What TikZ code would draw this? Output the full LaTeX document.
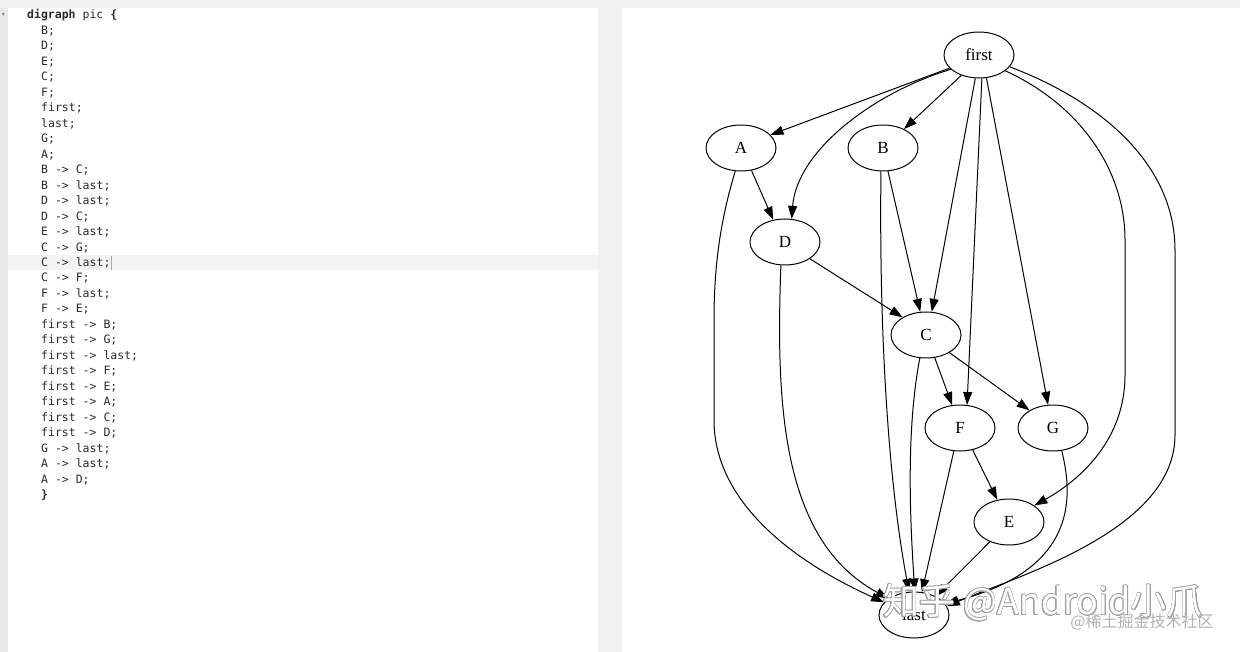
\documentclass[tikz,border=0pt]{standalone}
\usepackage{fontspec}
\setmainfont{Liberation Serif}
\newfontfamily\codefont{DejaVu Sans Mono}
\newfontfamily\symfont{DejaVu Sans}
\newfontfamily\cjkfont{Noto Sans CJK SC}
\usepackage{contour}
\contourlength{0.7pt}
\contournumber{20}
\usetikzlibrary{arrows.meta,shapes.geometric}
\definecolor{panelgray}{HTML}{F0F0F0}
\definecolor{gutter}{HTML}{E9E9E9}
\definecolor{curline}{HTML}{F3F3F3}
\definecolor{codecol}{HTML}{2A2A2A}
\tikzset{
  gnode/.style={ellipse, draw, line width=1pt, minimum width=70pt, minimum height=46pt, inner sep=0pt,
    font=\fontsize{17}{17}\selectfont},
  edge/.style={line width=1pt, -{Triangle[length=13pt,width=9pt]}},
  codeline/.style={anchor=base west, inner sep=0pt, text=codecol, font=\codefont\fontsize{11.5}{14}\selectfont},
}
\begin{document}
\begin{tikzpicture}[x=1pt,y=-1pt]
\useasboundingbox (0,0) rectangle (1240,652);
% backgrounds
\fill[panelgray] (0,0) rectangle (1240,652);
\fill[white] (8,8) rectangle (598,652);
\fill[white] (622,8) rectangle (1240,652);
\fill[gutter] (0,8) rectangle (8,652);
\fill[curline] (8,255.5) rectangle (598,270.5);
\node[inner sep=0pt, text=gray, font=\symfont\fontsize{6}{6}\selectfont] (fold) at (3.5,15) {▾};
% code
\node[codeline] (l0) at (27,19) {\bfseries digraph \mdseries pic \bfseries\{};
\foreach \t [count=\i] in {B;, D;, E;, C;, F;, first;, last;, G;, A;, B -> C;, B -> last;, D -> last;, D -> C;, E -> last;, C -> G;, C -> last;, C -> F;, F -> last;, F -> E;, first -> B;, first -> G;, first -> last;, first -> F;, first -> E;, first -> A;, first -> C;, first -> D;, G -> last;, A -> last;, A -> D;}
  \node[codeline] (l\i) at (41,19+15.47*\i) {\t};
\node[codeline] (l31) at (41,19+15.47*31) {\bfseries\}};
\draw[gray!70, line width=0.6pt] (111.5,256.5) -- (111.5,270);
% graph nodes
\node[gnode] (first) at (979,55) {first};
\node[gnode] (A) at (741,148) {A};
\node[gnode] (B) at (883,148) {B};
\node[gnode] (D) at (785,242) {D};
\node[gnode] (C) at (926,335) {C};
\node[gnode] (F) at (960,428) {F};
\node[gnode] (G) at (1053,428) {G};
\node[gnode] (E) at (1009,522) {E};
\node[gnode] (last) at (914,615) {last};
% edges
\draw[edge] (first.-156) -- (A.24);
\draw[edge] (first.-153) .. controls (875,92) and (797,150) .. (D.74);
\draw[edge] (first.-131) -- (B.42);
\draw[edge] (first.-99) -- (C.76);
\draw[edge] (first.-83) -- (F.73);
\draw[edge] (first.-72) -- (G.102);
\draw[edge] (first.-31) .. controls (1080,105) and (1125,170) .. (1125,240) -- (1125,375) .. controls (1125,440) and (1080,480) .. (E.33);
\draw[edge] (first.-21) .. controls (1110,105) and (1175,170) .. (1175,250) -- (1175,435) .. controls (1175,530) and (1020,575) .. (last.15);
\draw[edge] (A.-65) -- (D.118);
\draw[edge] (A.-104) .. controls (722,215) and (714,260) .. (714,320) -- (714,420) .. controls (714,500) and (790,560) .. (last.157);
\draw[edge] (B.-78) -- (C.104);
\draw[edge] (B.-95) .. controls (879,330) and (888,480) .. (last.102);
\draw[edge] (D.-34) -- (C.143);
\draw[edge] (D.-100) .. controls (776,400) and (780,540) .. (last.147);
\draw[edge] (C.-69) -- (F.109);
\draw[edge] (C.-37) -- (G.143);
\draw[edge] (C.-105) .. controls (906,430) and (910,520) .. (last.88);
\draw[edge] (F.-105) -- (last.71);
\draw[edge] (F.-60) -- (E.118);
\draw[edge] (E.-134) -- (last.41);
\draw[edge] (G.-69) .. controls (1074,500) and (1075,570) .. (last.20);
% watermarks
\node[inner sep=0pt, font=\cjkfont\fontsize{36}{36}\selectfont] (wm1) at (1043,603) {\contour{gray!75}{\textcolor{white}{知乎 @Android小爪}}};
\node[inner sep=0pt, text=gray!60, font=\cjkfont\fontsize{16}{16}\selectfont] (wm2) at (1142,622) {@稀土掘金技术社区};
\end{tikzpicture}
\end{document}
